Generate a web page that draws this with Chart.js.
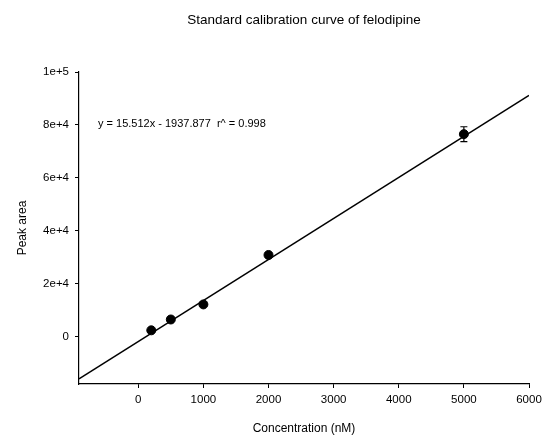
<!DOCTYPE html>
<html>
<head>
<meta charset="utf-8">
<script src="https://cdn.jsdelivr.net/npm/chart.js@4"></script>
<style>
  html, body { margin: 0; padding: 0; background: #fff; }
  #wrap { width: 552px; height: 436px; }
</style>
</head>
<body>
<div id="wrap"><canvas id="myChart" width="552" height="436"></canvas></div>
<script>
// data
var concentration = [200, 500, 1000, 2000, 5000];
var peakArea = [2300, 6400, 12100, 30800, 76500];
var peakErr = [500, 600, 700, 900, 2800];

// fitted line, drawn across the x range
var fitX = [-910, 6000];
var fitY = [-16050, 91140];

var xTicks = [0, 1000, 2000, 3000, 4000, 5000, 6000];
var xTickLabels = ["0", "1000", "2000", "3000", "4000", "5000", "6000"];
var yTicks = [0, 20000, 40000, 60000, 80000, 100000];
var yTickLabels = ["0", "2e+4", "4e+4", "6e+4", "8e+4", "1e+5"];

var titleText = "Standard calibration curve of felodipine";
var equationText = "y = 15.512x - 1937.877  r^ = 0.998";

var FONT = "'Liberation Sans', Arial, sans-serif";

var pts = concentration.map(function(x, i){ return {x: x, y: peakArea[i]}; });
var fitPts = fitX.map(function(x, i){ return {x: x, y: fitY[i]}; });

var extras = {
    id: "extras",
    afterDatasetsDraw: function(chart){
        var ctx = chart.ctx;
        var xs = chart.scales.x, ys = chart.scales.y;
        ctx.save();
        // error bars
        ctx.strokeStyle = "#000";
        ctx.lineWidth = 1.2;
        concentration.forEach(function(x, i){
            var px = xs.getPixelForValue(x);
            var top = ys.getPixelForValue(peakArea[i] + peakErr[i]);
            var bot = ys.getPixelForValue(peakArea[i] - peakErr[i]);
            ctx.beginPath();
            ctx.moveTo(px, top); ctx.lineTo(px, bot);
            ctx.moveTo(px - 3.5, top); ctx.lineTo(px + 3.5, top);
            ctx.moveTo(px - 3.5, bot); ctx.lineTo(px + 3.5, bot);
            ctx.stroke();
        });
        // title and equation
        ctx.fillStyle = "#000";
        ctx.textBaseline = "middle";
        ctx.textAlign = "center";
        ctx.font = "13.5px " + FONT;
        ctx.fillText(titleText, 304, 20);
        ctx.textAlign = "left";
        ctx.font = "11px " + FONT;
        ctx.fillText(equationText, 98, 124);
        ctx.restore();
    }
};

new Chart("myChart", {
    type: "scatter",
    data: {
        datasets: [{
            data: fitPts,
            showLine: true,
            borderColor: "#000",
            borderWidth: 1.5,
            pointRadius: 0,
            order: 2
        }, {
            data: pts,
            backgroundColor: "#000",
            borderColor: "#000",
            pointRadius: 4.5,
            order: 1
        }]
    },
    options: {
        responsive: false,
        animation: false,
        layout: { padding: { top: 72, right: 23, left: 15, bottom: 0 } },
        plugins: {
            legend: { display: false },
            tooltip: { enabled: false }
        },
        scales: {
            x: {
                type: "linear",
                min: -910,
                max: 6000,
                afterBuildTicks: function(s){ s.ticks = xTicks.map(function(v){ return {value: v}; }); },
                afterFit: function(s){ s.height = 52; },
                ticks: {
                    color: "#000",
                    font: { family: FONT, size: 11.5 },
                    padding: 5,
                    maxRotation: 0,
                    callback: function(v){ return xTickLabels[xTicks.indexOf(v)]; }
                },
                grid: { drawOnChartArea: false, tickLength: 4, color: "#000" },
                border: { color: "#000", width: 1.2 },
                title: {
                    display: true,
                    text: "Concentration (nM)",
                    color: "#000",
                    font: { family: FONT, size: 12 },
                    padding: { top: 4, bottom: 0 }
                }
            },
            y: {
                type: "linear",
                min: -18000,
                max: 100000,
                afterBuildTicks: function(s){ s.ticks = yTicks.map(function(v){ return {value: v}; }); },
                afterFit: function(s){ s.width = 64; },
                ticks: {
                    color: "#000",
                    font: { family: FONT, size: 11.5 },
                    padding: 6,
                    callback: function(v){ return yTickLabels[yTicks.indexOf(v)]; }
                },
                grid: { drawOnChartArea: false, tickLength: 4, color: "#000" },
                border: { color: "#000", width: 1.2 },
                title: {
                    display: true,
                    text: "Peak area",
                    color: "#000",
                    font: { family: FONT, size: 12 },
                    padding: { top: 0, bottom: 4 }
                }
            }
        }
    },
    plugins: [extras]
});
</script>
</body>
</html>
